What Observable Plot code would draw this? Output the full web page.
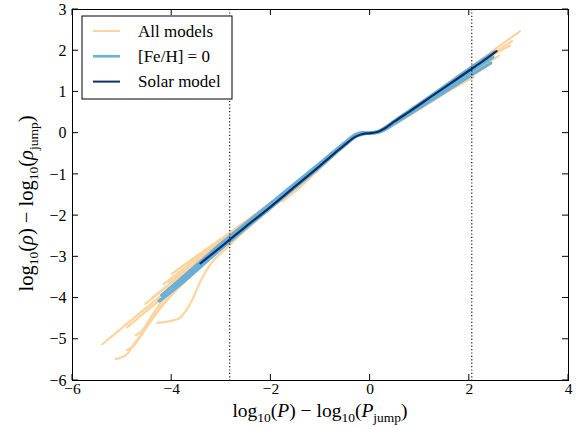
<!DOCTYPE html>
<html>
<head>
<meta charset="utf-8">
<script src="https://cdn.jsdelivr.net/npm/d3@7"></script>
<script src="https://cdn.jsdelivr.net/npm/@observablehq/plot@0.6"></script>
<style>
  html, body { margin: 0; padding: 0; background: white; }
  #chart { width: 578px; height: 429px; }
</style>
</head>
<body>
<div id="chart"></div>
<script>
// ---------- data ----------
const xTicks = [-6, -4, -2, 0, 2, 4];
const yTicks = [-6, -5, -4, -3, -2, -1, 0, 1, 2, 3];
const dottedLines = [-2.83, 2.05];
const legendLabels = ["All models", "[Fe/H] = 0", "Solar model"];

const allModels = [
  [[-5.40,-5.12],[-4.7,-4.42],[-4.0,-3.72],[-3.0,-2.73],[-2.0,-1.74],[-1.0,-0.75],[-0.5,-0.25],[-0.3,-0.08],[-0.15,-0.01],[0,0],[0.15,0.04],[0.3,0.14],[0.5,0.31],[1.0,0.72],[1.5,1.14],[2.0,1.58],[2.5,2.02],[3.02,2.47]],
  [[-5.13,-5.48],[-4.9,-5.36],[-4.75,-5.1],[-4.5,-4.7],[-4.25,-4.28],[-3.9,-3.8],[-3.4,-3.24],[-3.0,-2.8],[-2.0,-1.82],[-1.0,-0.81],[-0.5,-0.29],[-0.3,-0.1],[-0.15,-0.02],[0,0],[0.15,0.02],[0.3,0.09],[0.5,0.25],[1.0,0.63],[1.5,1.02],[2.0,1.42],[2.6,1.88]],
  [[-4.9,-5.26],[-4.78,-5.18],[-4.6,-4.88],[-4.35,-4.42],[-4.1,-4.02],[-3.6,-3.42],[-3.0,-2.8],[-2.0,-1.8],[-1.0,-0.8],[-0.5,-0.28],[-0.3,-0.09],[-0.15,-0.02],[0,0],[0.15,0.03],[0.3,0.12],[0.5,0.28],[1.0,0.69],[1.5,1.1],[2.0,1.53],[2.5,1.95],[2.86,2.23]],
  [[-4.73,-4.9],[-4.6,-4.8],[-4.45,-4.52],[-4.2,-4.08],[-3.8,-3.6],[-3.0,-2.78],[-2.0,-1.8],[-1.0,-0.79],[-0.5,-0.28],[-0.3,-0.09],[-0.15,-0.02],[0,0],[0.15,0.03],[0.3,0.11],[0.5,0.27],[1.0,0.67],[1.5,1.08],[2.0,1.5],[2.5,1.92],[2.82,2.12]],
  [[-4.9,-4.71],[-4.4,-4.2],[-3.9,-3.7],[-3.0,-2.79],[-2.0,-1.81],[-1.0,-0.8],[-0.5,-0.28],[-0.3,-0.1],[-0.15,-0.02],[0,0],[0.15,0.02],[0.3,0.08],[0.5,0.22],[1.0,0.58],[1.5,0.96],[2.09,1.36]],
  [[-4.29,-4.6],[-3.86,-4.5],[-3.62,-4.12],[-3.39,-3.52],[-3.2,-3.15],[-2.95,-2.85],[-2.7,-2.56],[-2.0,-1.82],[-1.0,-0.8],[-0.5,-0.28],[-0.3,-0.09],[-0.15,-0.02],[0,0],[0.15,0.03],[0.3,0.11],[0.5,0.27],[1.0,0.66],[1.5,1.06],[2.0,1.47],[2.45,1.8]],
  [[-4.53,-4.14],[-4.0,-3.63],[-3.0,-2.72],[-2.0,-1.76],[-1.0,-0.77],[-0.5,-0.27],[-0.3,-0.09],[-0.15,-0.02],[0,0],[0.15,0.03],[0.3,0.12],[0.5,0.29],[1.0,0.7],[1.5,1.11],[2.0,1.52],[2.55,1.97]],
  [[-4.49,-4.3],[-4.0,-3.8],[-3.0,-2.8],[-2.0,-1.8],[-1.0,-0.79],[-0.5,-0.28],[-0.3,-0.1],[-0.15,-0.02],[0,0],[0.15,0.02],[0.3,0.1],[0.5,0.25],[1.0,0.64],[1.5,1.03],[2.0,1.43],[2.4,1.72]],
  [[-4.16,-3.66],[-3.5,-3.05],[-3.0,-2.6],[-2.0,-1.7],[-1.0,-0.74],[-0.5,-0.25],[-0.3,-0.08],[-0.15,-0.01],[0,0],[0.15,0.04],[0.3,0.13],[0.5,0.3],[1.0,0.71],[1.5,1.12],[2.0,1.55],[2.55,2.0]],
  [[-3.99,-3.41],[-3.5,-2.98],[-3.0,-2.56],[-2.0,-1.68],[-1.0,-0.73],[-0.5,-0.24],[-0.3,-0.07],[-0.15,-0.01],[0,0],[0.15,0.04],[0.3,0.14],[0.5,0.32],[1.0,0.73],[1.5,1.15],[2.0,1.58],[2.5,2.0]],
  [[-3.69,-3.17],[-3.0,-2.6],[-2.0,-1.71],[-1.0,-0.75],[-0.5,-0.25],[-0.3,-0.08],[-0.15,-0.01],[0,0],[0.15,0.03],[0.3,0.13],[0.5,0.3],[1.0,0.7],[1.5,1.12],[2.0,1.54],[2.5,1.96]],
  [[-3.49,-3.09],[-3.0,-2.66],[-2.0,-1.73],[-1.0,-0.76],[-0.5,-0.26],[-0.3,-0.08],[-0.15,-0.02],[0,0],[0.15,0.03],[0.3,0.12],[0.5,0.29],[1.0,0.69],[1.5,1.09],[2.0,1.5],[2.3,1.75]],
  [[-1.77,-1.66],[-1.4,-1.3],[-0.94,-0.77],[-0.6,-0.4],[-0.3,-0.1],[-0.15,-0.02],[0,0],[0.15,0.03],[0.3,0.11],[0.5,0.27],[1.0,0.67],[1.5,1.07],[2.0,1.48],[2.45,1.82]],
  [[-4.4,-4.0],[-3.8,-3.42],[-3.0,-2.67],[-2.0,-1.74],[-1.0,-0.77],[-0.5,-0.26],[-0.3,-0.09],[-0.15,-0.02],[0,0],[0.15,0.03],[0.3,0.12],[0.5,0.29],[1.0,0.7],[1.5,1.1],[2.0,1.5],[2.5,1.88]],
  [[-4.05,-3.62],[-3.5,-3.12],[-3.0,-2.66],[-2.0,-1.75],[-1.0,-0.77],[-0.5,-0.26],[-0.3,-0.09],[-0.15,-0.02],[0,0],[0.15,0.03],[0.3,0.1],[0.5,0.26],[1.0,0.64],[1.5,1.03],[2.0,1.46],[2.35,1.72]]
];

const fehZeroModels = [
  [[-4.25,-4.07],[-3.8,-3.64],[-3.4,-3.22],[-3.0,-2.8],[-2.0,-1.8],[-1.0,-0.8],[-0.5,-0.28],[-0.3,-0.09],[-0.15,-0.02],[0,0],[0.15,0.02],[0.3,0.09],[0.5,0.24],[1.0,0.62],[1.5,1.0],[2.0,1.38],[2.43,1.7]],
  [[-4.2,-3.93],[-3.8,-3.52],[-3.4,-3.1],[-3.0,-2.68],[-2.0,-1.7],[-1.0,-0.72],[-0.5,-0.22],[-0.3,-0.04],[-0.15,0.01],[0,0],[0.15,0.03],[0.3,0.13],[0.5,0.3],[1.0,0.71],[1.5,1.13],[2.0,1.56],[2.5,1.96]],
  [[-3.95,-3.72],[-3.4,-3.17],[-3.0,-2.75],[-2.0,-1.76],[-1.0,-0.76],[-0.5,-0.25],[-0.3,-0.07],[-0.15,-0.01],[0,0],[0.15,0.03],[0.3,0.11],[0.5,0.27],[1.0,0.67],[1.5,1.07],[2.0,1.48],[2.47,1.84]]
];

const solarModel = [[-3.42,-3.16],[-3.0,-2.75],[-2.5,-2.26],[-2.0,-1.78],[-1.5,-1.28],[-1.0,-0.78],[-0.7,-0.47],[-0.5,-0.27],[-0.3,-0.09],[-0.15,-0.02],[0,0],[0.15,0.03],[0.3,0.12],[0.5,0.29],[0.8,0.53],[1.2,0.86],[1.6,1.19],[2.0,1.52],[2.3,1.77],[2.55,1.99]];

// ---------- styling ----------
const cOrange = "#fdd49e";
const cBlue = "#6baed6";
const cDark = "#08306b";
const FONT = "'Liberation Serif', 'DejaVu Serif', serif";

const toRows = (sets) => sets.flatMap((pts, i) => pts.map(([x, y]) => ({x, y, id: i})));
const fmt = d => (d < 0 ? "\u2212" : "") + Math.abs(d);

const plot = Plot.plot({
  width: 578,
  height: 429,
  marginLeft: 72,
  marginRight: 10,
  marginTop: 9,
  marginBottom: 49,
  style: {fontFamily: FONT, fontSize: "16px", background: "white", color: "black"},
  x: {domain: [-6, 4], axis: null},
  y: {domain: [-6, 3], axis: null},
  marks: [
    Plot.line(toRows(allModels), {x: "x", y: "y", z: "id", stroke: cOrange, strokeWidth: 2.2, curve: "monotone-x"}),
    Plot.line(toRows(fehZeroModels), {x: "x", y: "y", z: "id", stroke: cBlue, strokeWidth: 3.4, curve: "monotone-x"}),
    Plot.line(solarModel, {x: d => d[0], y: d => d[1], stroke: cDark, strokeWidth: 2.2, curve: "monotone-x"}),
    Plot.ruleX(dottedLines, {stroke: "black", strokeWidth: 1.1, strokeDasharray: "1.2,2.2"}),
    Plot.frame({stroke: "black", strokeWidth: 1}),
    Plot.axisX(xTicks, {anchor: "bottom", tickSize: 0, tickPadding: 2, tickFormat: fmt, label: null, fontSize: 15.5}),
    Plot.axisY(yTicks, {anchor: "left", tickSize: 0, tickPadding: 6, tickFormat: fmt, label: null, fontSize: 16})
  ]
});

document.getElementById("chart").appendChild(plot);

// inward ticks on all four sides, placed with the plot's own scales
const sx = plot.scale("x"), sy = plot.scale("y");
const svg = d3.select(plot);
const x0 = sx.apply(-6), x1 = sx.apply(4), y0 = sy.apply(-6), y1 = sy.apply(3);
const T = 6;
const tg = svg.append("g").attr("stroke", "black").attr("stroke-width", 1);
xTicks.forEach(t => {
  const px = sx.apply(t);
  tg.append("line").attr("x1", px).attr("x2", px).attr("y1", y0).attr("y2", y0 - T);
  tg.append("line").attr("x1", px).attr("x2", px).attr("y1", y1).attr("y2", y1 + T);
});
yTicks.forEach(t => {
  const py = sy.apply(t);
  tg.append("line").attr("y1", py).attr("y2", py).attr("x1", x0).attr("x2", x0 + T);
  tg.append("line").attr("y1", py).attr("y2", py).attr("x1", x1).attr("x2", x1 - T);
});

// axis titles with subscripts
function mathLabel(sel, sym) {
  sel.append("tspan").text("log");
  sel.append("tspan").attr("dy", 5).attr("font-size", 13.5).text("10");
  sel.append("tspan").attr("dy", -5).text("(");
  sel.append("tspan").attr("font-style", "italic").text(sym);
  sel.append("tspan").text(") \u2212 log");
  sel.append("tspan").attr("dy", 5).attr("font-size", 13.5).text("10");
  sel.append("tspan").attr("dy", -5).text("(");
  sel.append("tspan").attr("font-style", "italic").text(sym);
  sel.append("tspan").attr("dy", 5).attr("font-size", 13.5).text("jump");
  sel.append("tspan").attr("dy", -5).text(")");
}
const xt = svg.append("text")
  .attr("x", (x0 + x1) / 2).attr("y", 417)
  .attr("text-anchor", "middle").attr("font-family", FONT).attr("font-size", 19.5).attr("fill", "black");
mathLabel(xt, "P");
const yt = svg.append("text")
  .attr("transform", `translate(33,${(y0 + y1) / 2 + 9}) rotate(-90)`)
  .attr("text-anchor", "middle").attr("font-family", FONT).attr("font-size", 20.5).attr("fill", "black");
mathLabel(yt, "\u03c1");

// legend box
const lg = svg.append("g").attr("font-family", FONT).attr("font-size", 17).attr("text-anchor", "start");
lg.append("rect").attr("x", 82).attr("y", 16).attr("width", 150).attr("height", 83)
  .attr("fill", "white").attr("stroke", "black").attr("stroke-width", 1);
const lcols = [cOrange, cBlue, cDark];
const lwidths = [2, 2.5, 2];
legendLabels.forEach((lab, i) => {
  const ly = 31 + i * 25.3;
  lg.append("line").attr("x1", 93).attr("x2", 120).attr("y1", ly).attr("y2", ly)
    .attr("stroke", lcols[i]).attr("stroke-width", lwidths[i]);
  lg.append("text").attr("x", 138).attr("y", ly + 5.5).attr("text-anchor", "start").attr("fill", "black").text(lab);
});
</script>
</body>
</html>
